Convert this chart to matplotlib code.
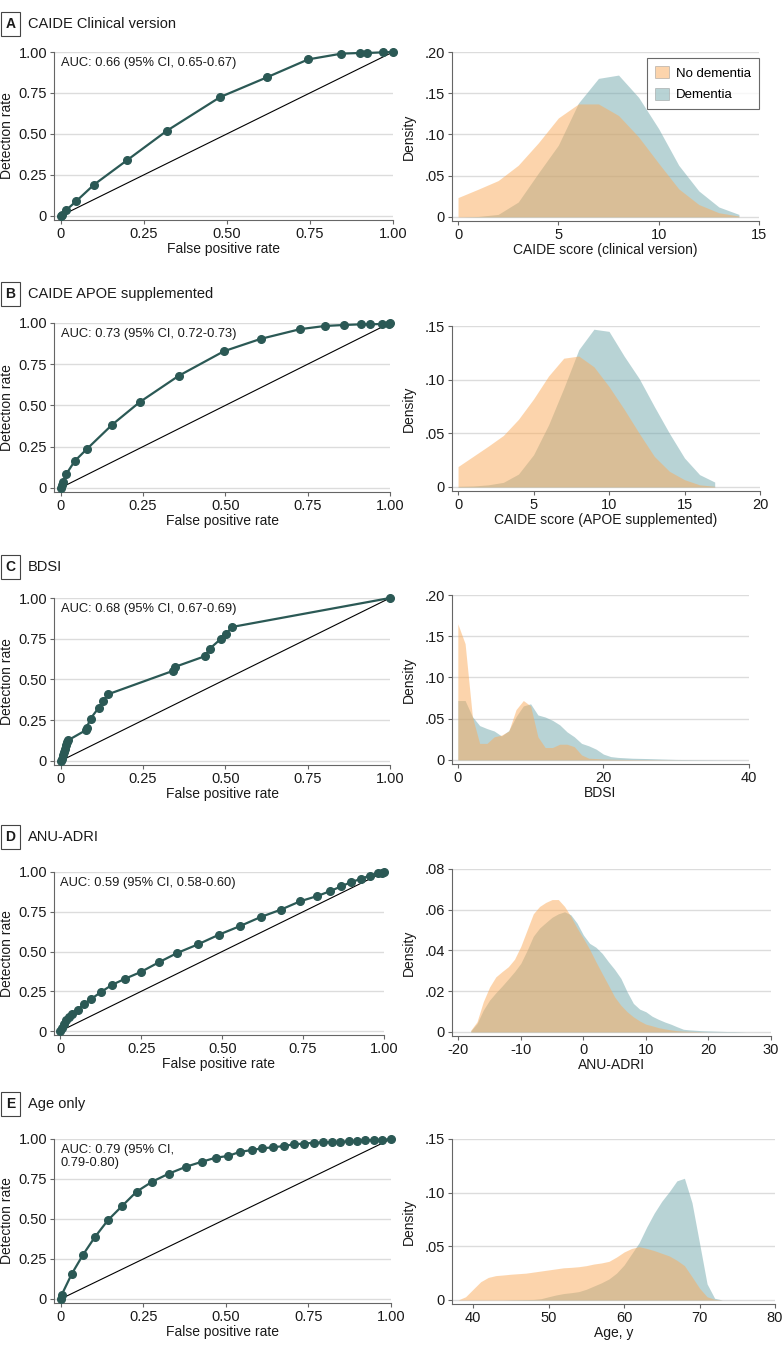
import matplotlib
matplotlib.use("Agg")
import matplotlib.pyplot as plt
from matplotlib.patches import Patch

plt.rcParams["font.family"] = ["Liberation Sans", "DejaVu Sans"]
plt.rcParams["axes.unicode_minus"] = False

W, H = 783, 1354

# ROC curves (false positive rate, detection rate)
roc_a_fpr = [0, 0.003, 0.017, 0.047, 0.10, 0.20, 0.32, 0.48, 0.62, 0.745, 0.845, 0.90, 0.923, 0.97, 1.0]
roc_a_tpr = [0, 0.008, 0.036, 0.09, 0.19, 0.34, 0.52, 0.725, 0.845, 0.955, 0.99, 0.994, 0.994, 0.998, 1.0]

roc_b_fpr = [0, 0.003, 0.006, 0.017, 0.043, 0.081, 0.157, 0.24, 0.358, 0.496, 0.608, 0.728, 0.803, 0.861, 0.912, 0.939, 0.977, 0.998, 1.0]
roc_b_tpr = [0, 0.02, 0.035, 0.083, 0.163, 0.238, 0.384, 0.52, 0.679, 0.829, 0.904, 0.963, 0.982, 0.988, 0.992, 0.992, 0.994, 0.996, 1.0]

roc_c_fpr = [0, 0.003, 0.007, 0.01, 0.013, 0.016, 0.02, 0.023, 0.076, 0.079, 0.091, 0.116, 0.129, 0.144,
             0.34, 0.347, 0.437, 0.453, 0.487, 0.503, 0.52, 1.0]
roc_c_tpr = [0, 0.014, 0.035, 0.055, 0.076, 0.096, 0.117, 0.127, 0.188, 0.204, 0.26, 0.327, 0.366, 0.409,
             0.552, 0.577, 0.642, 0.689, 0.75, 0.781, 0.822, 1.0]

roc_d_fpr = [0, 0.005, 0.01, 0.017, 0.026, 0.036, 0.053, 0.074, 0.095, 0.125, 0.16, 0.2, 0.248, 0.304,
             0.361, 0.425, 0.49, 0.555, 0.619, 0.681, 0.741, 0.794, 0.834, 0.868, 0.899, 0.928, 0.956,
             0.981, 0.993, 1.0]
roc_d_tpr = [0, 0.021, 0.046, 0.067, 0.088, 0.109, 0.134, 0.172, 0.201, 0.245, 0.291, 0.329, 0.371, 0.432,
             0.491, 0.545, 0.606, 0.66, 0.717, 0.763, 0.816, 0.849, 0.88, 0.91, 0.937, 0.956, 0.977,
             0.992, 0.996, 1.0]

roc_e_fpr = [0, 0.003, 0.034, 0.068, 0.103, 0.143, 0.186, 0.23, 0.277, 0.327, 0.38, 0.428, 0.469, 0.507,
             0.542, 0.578, 0.611, 0.643, 0.675, 0.706, 0.736, 0.766, 0.793, 0.822, 0.847, 0.872, 0.897,
             0.922, 0.948, 0.973, 1.0]
roc_e_tpr = [0, 0.025, 0.158, 0.277, 0.385, 0.492, 0.581, 0.671, 0.733, 0.783, 0.827, 0.858, 0.883, 0.894,
             0.919, 0.931, 0.942, 0.948, 0.956, 0.967, 0.971, 0.977, 0.979, 0.981, 0.983, 0.985, 0.988,
             0.992, 0.994, 0.996, 0.998]

# density curves
dens_a_x = list(range(0, 15))
dens_a_no = [0.0234, 0.0335, 0.044, 0.0626, 0.0897, 0.12, 0.137, 0.137, 0.123, 0.097, 0.065, 0.034, 0.015, 0.005, 0.001]
dens_a_yes = [0.0, 0.0005, 0.003, 0.018, 0.053, 0.087, 0.138, 0.168, 0.172, 0.145, 0.107, 0.0626, 0.0315, 0.012, 0.003]

dens_b_x = list(range(0, 18))
dens_b_no = [0.019, 0.0285, 0.038, 0.048, 0.063, 0.082, 0.1035, 0.12, 0.122, 0.112, 0.0936, 0.0725, 0.050,
             0.0285, 0.0146, 0.0068, 0.002, 0.0006]
dens_b_yes = [0.0006, 0.0009, 0.002, 0.0043, 0.012, 0.030, 0.058, 0.092, 0.128, 0.147, 0.145, 0.122, 0.101,
              0.075, 0.050, 0.027, 0.0115, 0.0046]

dens_c_x = [0, 1, 2, 3, 4, 5, 6, 7, 8, 9, 10, 11, 12, 13, 14, 15, 16, 17, 18, 19, 20, 21, 22, 24, 26, 28, 30, 35, 40]
dens_c_no = [0.165, 0.141, 0.0525, 0.020, 0.020, 0.028, 0.030, 0.035, 0.061, 0.072, 0.0655, 0.028, 0.015, 0.015,
             0.019, 0.019, 0.016, 0.006, 0.002, 0.0016, 0.001, 0.0008, 0.0006, 0.0004, 0.0003, 0.0002, 0.0001, 0.0, 0.0]
dens_c_yes = [0.072, 0.072, 0.0525, 0.0416, 0.038, 0.035, 0.029, 0.0355, 0.0525, 0.0655, 0.068, 0.0545, 0.052,
              0.048, 0.0425, 0.034, 0.028, 0.020, 0.017, 0.013, 0.007, 0.004, 0.003, 0.002, 0.0016, 0.001,
              0.0005, 0.0002, 0.0]

dens_d_x = list(range(-18, 27))
dens_d_no = [0.0008, 0.005, 0.0148, 0.022, 0.027, 0.0296, 0.032, 0.0357, 0.042, 0.050, 0.058, 0.0616, 0.0636,
             0.065, 0.065, 0.0616, 0.0567, 0.051, 0.046, 0.0406, 0.0345, 0.0287, 0.023, 0.0172, 0.0131, 0.0099,
             0.0074, 0.0054, 0.0038, 0.003, 0.0021, 0.0015, 0.001, 0.0006, 0.0004, 0.0003, 0.0002, 0.0001,
             0.0, 0.0, 0.0, 0.0, 0.0, 0.0, 0.0]
dens_d_yes = [0.0005, 0.0041, 0.0107, 0.0156, 0.0192, 0.0225, 0.026, 0.0296, 0.0337, 0.040, 0.047, 0.051,
              0.0537, 0.0563, 0.058, 0.059, 0.0575, 0.0534, 0.0476, 0.0435, 0.0416, 0.0386, 0.0345, 0.0307,
              0.0263, 0.0197, 0.014, 0.0112, 0.0099, 0.0077, 0.0062, 0.0049, 0.0038, 0.0025, 0.0013, 0.001,
              0.0008, 0.0006, 0.0005, 0.0004, 0.0003, 0.0002, 0.0002, 0.0001, 0.0]

dens_e_x = list(range(38, 74))
dens_e_no = [0.0, 0.003, 0.010, 0.017, 0.021, 0.0227, 0.0233, 0.024, 0.0245, 0.025, 0.026, 0.027, 0.028, 0.029,
             0.030, 0.0304, 0.031, 0.032, 0.0335, 0.0345, 0.036, 0.040, 0.0447, 0.048, 0.0497, 0.048, 0.046,
             0.0435, 0.041, 0.037, 0.032, 0.0217, 0.011, 0.003, 0.0006, 0.0]
dens_e_yes = [0.0, 0.0, 0.0, 0.0, 0.0, 0.0, 0.0, 0.0002, 0.0003, 0.0004, 0.0005, 0.0012, 0.003, 0.0047, 0.006,
              0.0068, 0.0078, 0.010, 0.013, 0.016, 0.0196, 0.025, 0.0326, 0.043, 0.0534, 0.068, 0.081, 0.092,
              0.101, 0.111, 0.1134, 0.0907, 0.053, 0.015, 0.0016, 0.0]

titles = ["CAIDE Clinical version", "CAIDE APOE supplemented", "BDSI", "ANU-ADRI", "Age only"]
letters = ["A", "B", "C", "D", "E"]
auc_labels = ["AUC: 0.66 (95% CI, 0.65-0.67)", "AUC: 0.73 (95% CI, 0.72-0.73)",
              "AUC: 0.68 (95% CI, 0.67-0.69)", "AUC: 0.59 (95% CI, 0.58-0.60)",
              "AUC: 0.79 (95% CI,\n0.79-0.80)"]
dens_xlabels = ["CAIDE score (clinical version)", "CAIDE score (APOE supplemented)", "BDSI", "ANU-ADRI", "Age, y"]

roc_data = [(roc_a_fpr, roc_a_tpr), (roc_b_fpr, roc_b_tpr), (roc_c_fpr, roc_c_tpr),
            (roc_d_fpr, roc_d_tpr), (roc_e_fpr, roc_e_tpr)]
dens_data = [(dens_a_x, dens_a_no, dens_a_yes), (dens_b_x, dens_b_no, dens_b_yes),
             (dens_c_x, dens_c_no, dens_c_yes), (dens_d_x, dens_d_no, dens_d_yes),
             (dens_e_x, dens_e_no, dens_e_yes)]

dens_xlims = [(-0.3, 15), (-0.4, 20), (-0.8, 40), (-21, 30), (37.2, 80)]
dens_xticks = [[0, 5, 10, 15], [0, 5, 10, 15, 20], [0, 20, 40], [-20, -10, 0, 10, 20, 30], [40, 50, 60, 70, 80]]
dens_ytop = [0.20, 0.15, 0.20, 0.08, 0.15]
dens_yticks = [[0, 0.05, 0.10, 0.15, 0.20], [0, 0.05, 0.10, 0.15], [0, 0.05, 0.10, 0.15, 0.20],
               [0, 0.02, 0.04, 0.06, 0.08], [0, 0.05, 0.10, 0.15]]
dens_ylabels = [["0", ".05", ".10", ".15", ".20"], ["0", ".05", ".10", ".15"], ["0", ".05", ".10", ".15", ".20"],
                ["0", ".02", ".04", ".06", ".08"], ["0", ".05", ".10", ".15"]]

# pixel boxes (left, top, right, bottom)
roc_boxes = [(54, 52, 393, 220), (54, 323, 390, 492), (54, 598, 390, 765), (54, 872, 384, 1035), (54, 1139, 391, 1303)]
dens_boxes = [(452, 52, 759, 221), (452, 326, 760, 491), (452, 595, 749, 764), (452, 869, 771, 1036), (452, 1139, 775, 1304)]
title_y = [24, 294, 567, 837, 1104]

LINE = "#2b5955"
ORANGE = "#fbab5a"
TEAL = "#72a8ad"
GRID = "#dcdcdc"
SPINE = "#666666"
TEXT = "#1a1a1a"
FS = 10
TICK_FS = 10.5


def rect(box):
    l, t, r, b = box
    return [l / W, 1 - b / H, (r - l) / W, (b - t) / H]


def style(ax):
    for side in ["top", "right"]:
        ax.spines[side].set_visible(False)
    for side in ["left", "bottom"]:
        ax.spines[side].set_color(SPINE)
        ax.spines[side].set_linewidth(0.8)
    ax.tick_params(direction="out", length=3, width=0.8, color=SPINE, labelsize=TICK_FS, labelcolor=TEXT, pad=2)
    ax.yaxis.grid(True, color=GRID, lw=1.0)
    ax.set_facecolor("none")


fig = plt.figure(figsize=(W / 100, H / 100), dpi=100)

for i in range(5):
    # panel header
    ty = 1 - title_y[i] / H
    fig.text(10.5 / W, ty, letters[i], ha="center", va="center", fontsize=10, fontweight="bold", color=TEXT,
             bbox=dict(boxstyle="square,pad=0.35", fc="white", ec="#444444", lw=0.8))
    fig.text(28 / W, ty, titles[i], ha="left", va="center", fontsize=10.5, color=TEXT)

    # ROC curve
    ax = fig.add_axes(rect(roc_boxes[i]))
    style(ax)
    fpr, tpr = roc_data[i]
    ax.plot([0, 1], [0, 1], color="black", lw=0.8, zorder=2)
    ax.plot(fpr, tpr, color=LINE, lw=1.6, marker="o", ms=5.5, clip_on=False, zorder=3)
    ax.set_xlim(-0.02, 1.0)
    ax.set_ylim(-0.025, 1.0)
    ax.set_xticks([0, 0.25, 0.5, 0.75, 1.0])
    ax.set_xticklabels(["0", "0.25", "0.50", "0.75", "1.00"])
    ax.set_yticks([0, 0.25, 0.5, 0.75, 1.0])
    ax.set_yticklabels(["0", "0.25", "0.50", "0.75", "1.00"])
    ax.set_xlabel("False positive rate", fontsize=FS, color=TEXT, labelpad=1)
    ax.set_ylabel("Detection rate", fontsize=FS, color=TEXT, labelpad=3)
    ax.text(0.0, 0.97, auc_labels[i], fontsize=9.3, color=TEXT, ha="left", va="top", linespacing=1.15)

    # density plot
    ax2 = fig.add_axes(rect(dens_boxes[i]))
    style(ax2)
    x, no_d, yes_d = dens_data[i]
    ax2.fill_between(x, 0, yes_d, color=TEAL, alpha=0.5, lw=0, zorder=2)
    ax2.fill_between(x, 0, no_d, color=ORANGE, alpha=0.5, lw=0, zorder=3)
    ax2.set_xlim(*dens_xlims[i])
    ax2.set_ylim(-0.025 * dens_ytop[i], dens_ytop[i])
    ax2.set_xticks(dens_xticks[i])
    ax2.set_yticks(dens_yticks[i])
    ax2.set_yticklabels(dens_ylabels[i])
    ax2.set_xlabel(dens_xlabels[i], fontsize=FS, color=TEXT, labelpad=1)
    ax2.set_ylabel("Density", fontsize=FS, color=TEXT, labelpad=6)

    if i == 0:
        handles = [Patch(facecolor=ORANGE, alpha=0.5, edgecolor="#888888", lw=0.6, label="No dementia"),
                   Patch(facecolor=TEAL, alpha=0.5, edgecolor="#888888", lw=0.6, label="Dementia")]
        leg = ax2.legend(handles=handles, loc="upper right", bbox_to_anchor=(1.0, 0.965), borderaxespad=0,
                         fontsize=9.5, frameon=True, fancybox=False, edgecolor="#444444", handlelength=1.1,
                         handleheight=1.1, borderpad=0.6, labelspacing=0.6, handletextpad=0.5)
        leg.get_frame().set_linewidth(0.8)

fig.savefig("out.png", dpi=100)
